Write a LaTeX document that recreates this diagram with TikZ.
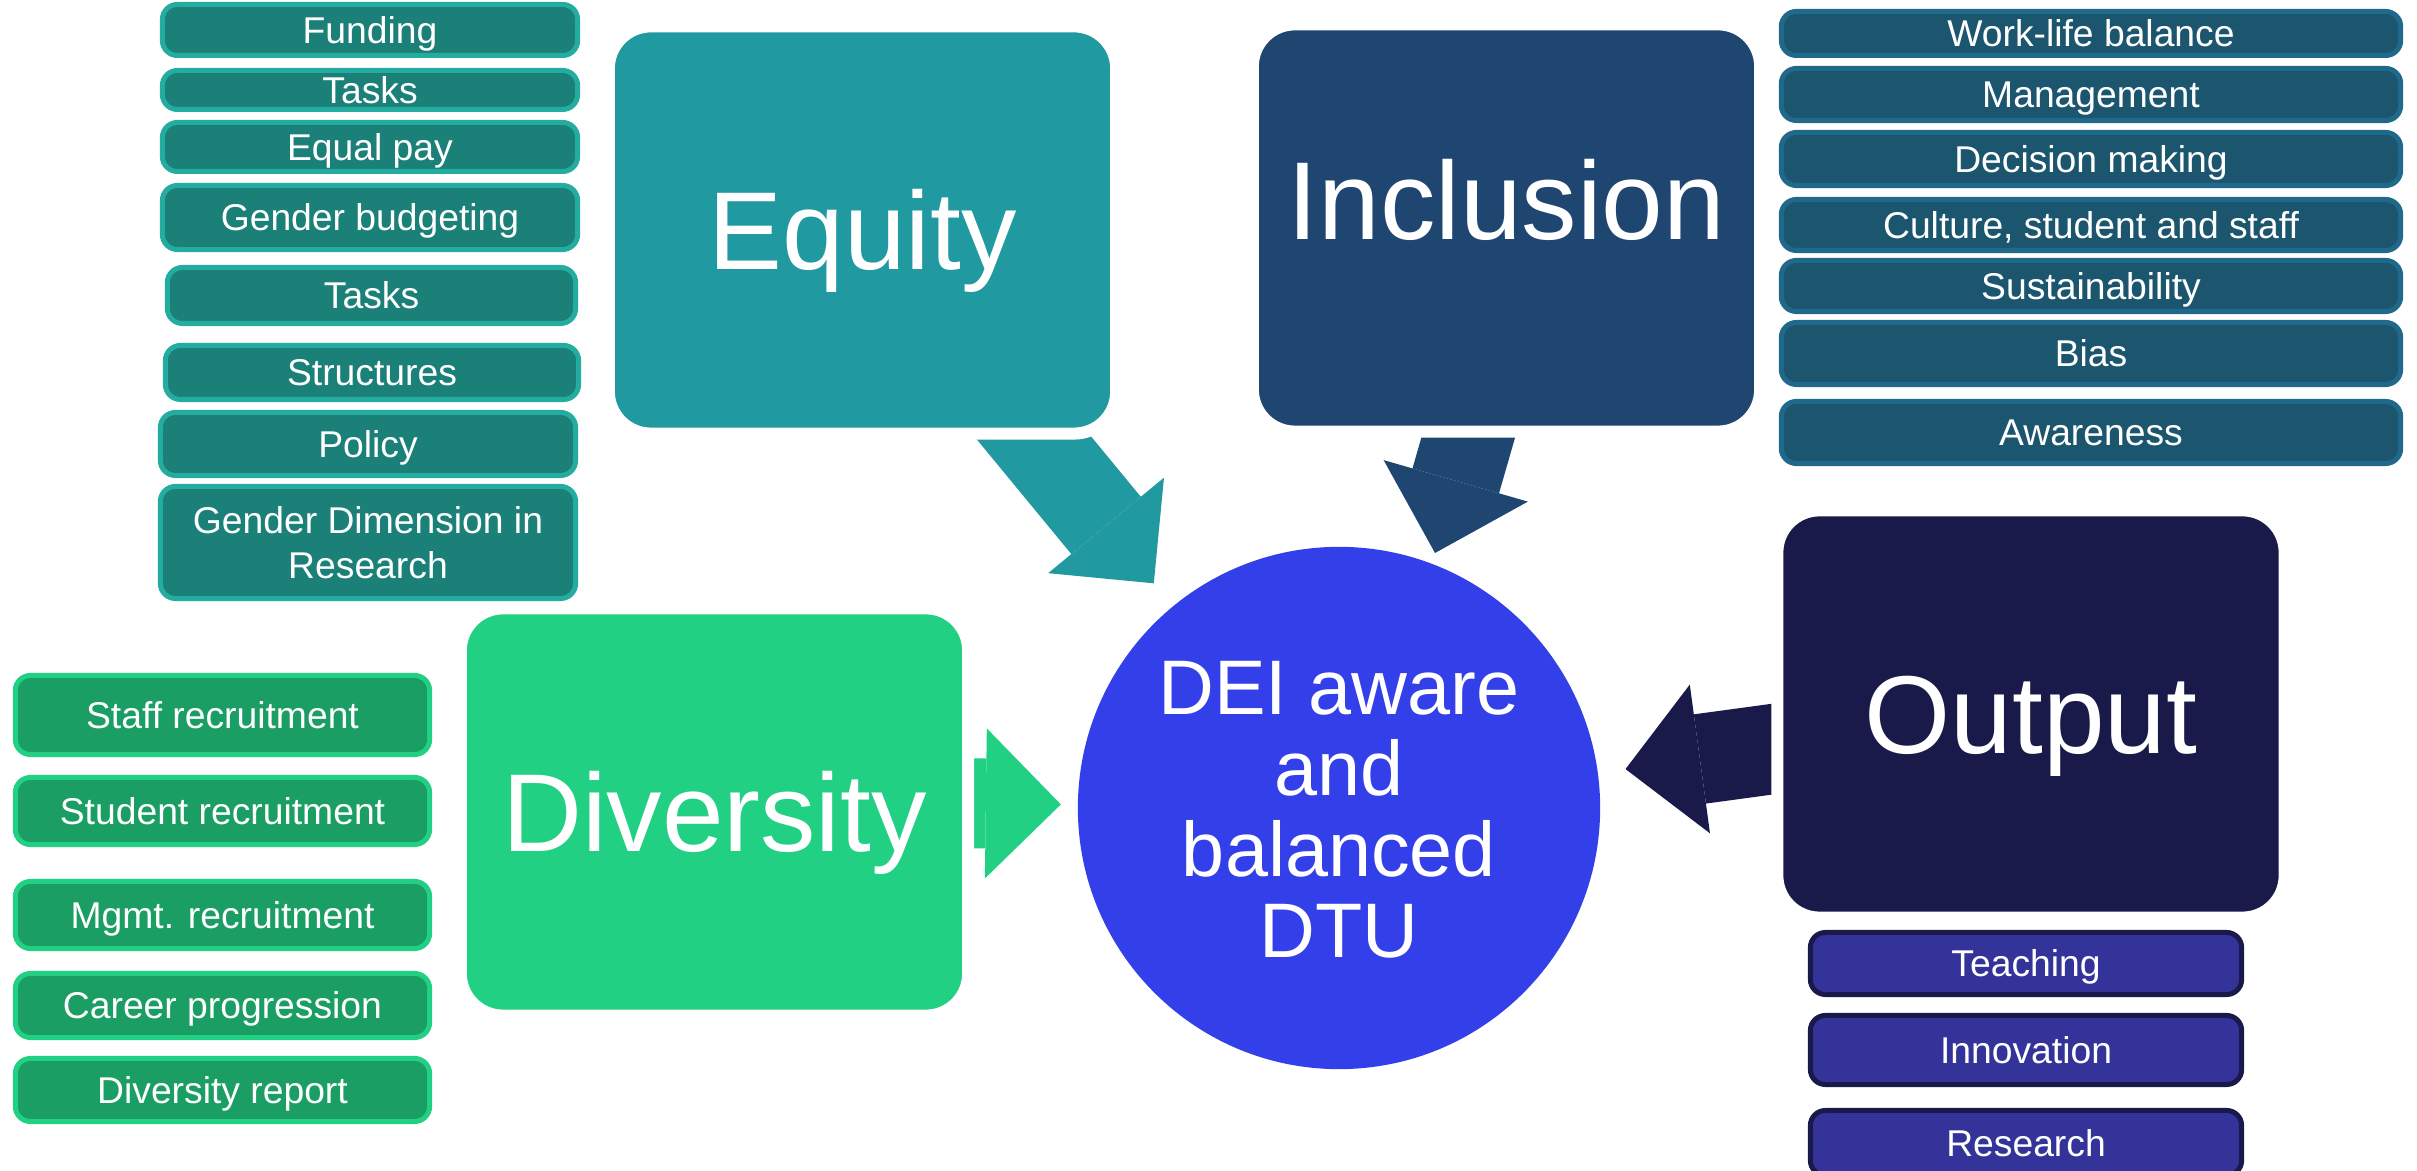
\documentclass[tikz,border=0pt]{standalone}
\usepackage{fontspec}
\setmainfont{Liberation Sans}
\usetikzlibrary{arrows.meta,backgrounds}

\definecolor{eqteal}{HTML}{2199A0}
\definecolor{eqsub}{HTML}{1A8078}
\definecolor{eqedge}{HTML}{23AC9F}
\definecolor{incblue}{HTML}{1F4571}
\definecolor{incsub}{HTML}{1C566E}
\definecolor{incedge}{HTML}{21698A}
\definecolor{outnavy}{HTML}{1A1A4A}
\definecolor{outsub}{HTML}{333399}
\definecolor{divgreen}{HTML}{22D084}
\definecolor{divsub}{HTML}{1A9E64}
\definecolor{deiblue}{HTML}{333FE8}

\begin{document}
\begin{tikzpicture}
[x=0.01cm, y=-0.01cm,%
 bigbox/.style={draw=white, line width=1.2mm, rounded corners=4.2mm,%
   minimum width=5.07cm, minimum height=4.07cm, inner sep=0pt, text=white,%
   font=\fontsize{31.5}{36}\selectfont, text height=22.6pt, text depth=0pt},%
 subbox/.style={line width=0.5mm, rounded corners=1.5mm, inner sep=0pt,%
   text=white, font=\fontsize{10.6}{12.7}\selectfont,%
   text height=7.6pt, text depth=0pt},%
 eqitem/.style={subbox, fill=eqsub, draw=eqedge, minimum width=4.15cm},%
 incitem/.style={subbox, fill=incsub, draw=incedge, minimum width=6.19cm},%
 divitem/.style={subbox, fill=divsub, draw=divgreen, minimum width=4.14cm},%
 outitem/.style={subbox, fill=outsub, draw=outnavy, minimum width=4.31cm},%
 flow/.style={line width=9mm,%
   -{Triangle[length=7.5mm, width=15mm, line width=0pt]}}]
\useasboundingbox (0,0) rectangle (2417,1171);

%% the four main boxes
\node[bigbox, fill=eqteal] (equity) at (862.5,230) {Equity};
\node[bigbox, fill=incblue] (inclusion) at (1506.5,228) {\raisebox{2.8mm}{Inclusion}};
\node[bigbox, fill=outnavy] (output) at (2031,714) {Output};
\node[bigbox, fill=divgreen] (diversity) at (714.5,812) {Diversity};

%% centre circle
\node[circle, fill=deiblue, minimum size=5.22cm, inner sep=0pt, outer sep=0pt,%
      text=white, align=center, font=\fontsize{22}{23}\selectfont,%
      text height=84.75pt, text depth=0pt] (dei) at (1339,808)
      {DEI aware\\and\\balanced\\DTU};

%% equity items
\node[eqitem, minimum height=0.51cm] (funding) at (370,30) {Funding};
\node[eqitem, minimum height=0.39cm] (tasksA) at (370,90) {Tasks};
\node[eqitem, minimum height=0.49cm] (equalpay) at (370,147) {Equal pay};
\node[eqitem, minimum height=0.64cm] (budgeting) at (370,217.5) {Gender budgeting};
\node[eqitem, minimum width=4.08cm, minimum height=0.56cm] (tasksB) at (371.5,295.5) {Tasks};
\node[eqitem, minimum width=4.13cm, minimum height=0.54cm] (structures) at (372,372.5) {Structures};
\node[eqitem, minimum height=0.63cm] (policy) at (368,444) {Policy};
\node[eqitem, minimum height=1.12cm, align=center, text height=20.3pt] (gendim) at (368,542.5)
  {Gender Dimension in\\Research};

%% inclusion items
\node[incitem, minimum height=0.44cm] (worklife) at (2091,33.5) {Work-life balance};
\node[incitem, minimum height=0.52cm] (management) at (2091,94.5) {Management};
\node[incitem, minimum height=0.53cm] (decision) at (2091,159) {Decision making};
\node[incitem, minimum height=0.51cm] (culture) at (2091,225) {Culture, student and staff};
\node[incitem, minimum height=0.51cm] (sustain) at (2091,286) {Sustainability};
\node[incitem, minimum height=0.62cm] (bias) at (2091,353.5) {Bias};
\node[incitem, minimum height=0.62cm] (awareness) at (2091,432.5) {Awareness};

%% diversity items
\node[divitem, minimum height=0.79cm] (staffrec) at (222.5,715) {Staff recruitment};
\node[divitem, minimum height=0.67cm] (studrec) at (222.5,811) {Student recruitment};
\node[divitem, minimum height=0.67cm] (mgmtrec) at (222.5,915) {Mgmt. recruitment};
\node[divitem, minimum height=0.64cm] (career) at (222.5,1005.5) {Career progression};
\node[divitem, minimum height=0.63cm] (divreport) at (222.5,1090) {Diversity report};

%% output items
\node[outitem, minimum height=0.62cm] (teaching) at (2026,963.5) {Teaching};
\node[outitem, minimum height=0.69cm] (innovation) at (2026,1050) {Innovation};
\node[outitem, minimum height=0.65cm] (research) at (2026,1143) {Research};

%% block arrows into the circle, tucked under the boxes
\coordinate (inctip) at (1435,553);
\begin{scope}[on background layer]
\draw[flow, draw=eqteal, shorten >=3mm] (equity.center) -- (dei);
\draw[flow, draw=incblue] ([xshift=2.2mm]inclusion.center) -- (inctip);
\draw[flow, draw=divgreen, shorten >=1.7mm] ([yshift=1.2mm]diversity.center) -- (dei);
\draw[flow, draw=outnavy, shorten >=2.8mm] (output.center) -- (dei);
\end{scope}
\end{tikzpicture}
\end{document}
